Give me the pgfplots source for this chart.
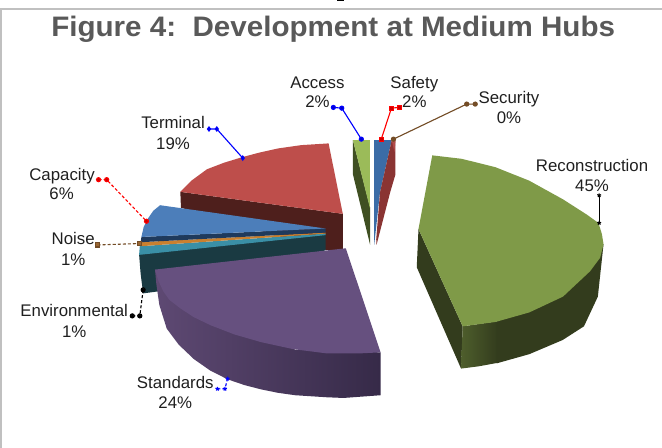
\documentclass[border=0pt]{standalone}
\usepackage{graphicx}
\usepackage{fontspec}
\setmainfont{Liberation Sans}
\usepackage{pgfplots}
\pgfplotsset{compat=1.18}

\definecolor{framegray}{HTML}{C0C0C0}
\definecolor{titlegray}{HTML}{595959}
\definecolor{labelink}{HTML}{1F1F1F}
\definecolor{leader}{HTML}{3A3A3A}
\definecolor{olive}{HTML}{7F9A48}
\definecolor{olivedark}{HTML}{333C1D}
\definecolor{olivemid}{HTML}{4E5E2C}
\definecolor{termred}{HTML}{BE4E4B}
\definecolor{termdark}{HTML}{4E1F1C}
\definecolor{capblue}{HTML}{4C7EBA}
\definecolor{capdark}{HTML}{1F3A5C}
\definecolor{noiseorange}{HTML}{C9802F}
\definecolor{envteal}{HTML}{3A8FA6}
\definecolor{envdark}{HTML}{1A3A42}
\definecolor{stdpurple}{HTML}{66507F}
\definecolor{stdleft}{HTML}{5E4973}
\definecolor{stdright}{HTML}{362A48}
\definecolor{accgreen}{HTML}{9BBB59}
\definecolor{accdark}{HTML}{3F4F22}
\definecolor{safeblue}{HTML}{3B6CA6}
\definecolor{secred}{HTML}{8A3433}
\definecolor{seclight}{HTML}{B04A4A}

\tikzset{lab/.style={anchor=base,text=labelink,font=\fontsize{16.6}{19}\selectfont,inner sep=0pt}}

\begin{document}
\begin{tikzpicture}
\begin{axis}[
    width=662pt, height=442pt, scale only axis,
    xmin=0, xmax=662, ymin=0, ymax=442,
    y dir=reverse, axis lines=none,
  ]
  % frame of the embedded chart
  \addplot[framegray, line width=1.5pt] coordinates {(9.5,442) (9.5,9) (662,9)};
  \addplot[black, line width=1.5pt] coordinates {(341,0) (348,0)};

  % Terminal
  \addplot[draw=none, fill=termdark] coordinates {(186.7,189.3) (187.3,205) (330,246.5) (347,246.5) (347,211)};
  \addplot[draw=none, fill=termred] coordinates {(186.7,189.3) (198,178) (213,167) (230,160.5) (248,155) (265,150.5) (283,146.5) (306,143.2) (333,141.5) (347,211)};

  % Environmental and Noise
  \addplot[draw=none, fill=envdark] coordinates {(146,251) (147.5,270) (150,289.5) (165,287.5) (330,247) (330,231.5)};
  \addplot[draw=none, fill=envteal] coordinates {(146.7,243) (146,251.5) (330,232) (330,230.5)};
  \addplot[draw=none, fill=noiseorange] coordinates {(146.5,239) (146.7,243) (330,230.5) (330,229.5)};

  % Capacity
  \addplot[draw=none, fill=capdark] coordinates {(148.3,233.8) (147.5,239) (330,229.5) (330,225.5)};
  \addplot[draw=none, fill=capblue] coordinates {(166.7,202.5) (160,208) (154.5,216) (150.5,224) (148.3,233.8) (330,225.5)};

  % Standards
  \addplot[draw=none, left color=stdleft, right color=stdright] coordinates {(161.7,266) (163,280) (166,301) (173.3,324.3) (185,340) (200,354.3) (216,365.5) (233.3,374.3) (250,380) (266.7,384.3) (283,387.6) (300,390) (331,392) (347.7,392.7) (384.3,390) (384.3,347.7) (300,345)};
  \addplot[draw=none, fill=stdpurple] coordinates {(161.7,266) (350,245) (384.3,347.7) (364,348.7) (331,348.7) (298,344.5) (266.7,337.7) (240,330) (216.7,321) (200,313) (186.7,304.3) (176,296) (170,287.7) (165,277)};

  % Reconstruction
  \addplot[draw=none, fill=olivedark] coordinates {(421.7,226) (420,263.7) (463.7,363.7) (465.3,322)};
  \addplot[draw=none, left color=olivemid, right color=olivedark] coordinates {(465.3,322) (463.7,363.7) (481,361.5) (500,358) (500,317)};
  \addplot[draw=none, fill=olivedark] coordinates {(499,315) (499,358.5) (531,349.5) (564,335.5) (585,322) (598.7,292.7) (604.3,241)};
  \addplot[draw=none, fill=olive] coordinates {(435.3,153.3) (464.3,156.7) (497.7,165) (531,178.3) (564.3,196.7) (587.7,211.7) (599.3,220) (602.7,231) (604.3,241) (601,254.3) (591,267.7) (564.3,292.7) (531,308.3) (497.7,317.7) (465.3,322) (421.7,226)};

  % Access
  \addplot[draw=none, fill=accdark] coordinates {(357,138.3) (357,172) (374,241.7) (374,205)};
  \addplot[draw=none, fill=accgreen] coordinates {(357,138.3) (373.7,138.3) (373.7,205)};

  % Safety and Security
  \addplot[draw=none, fill=safeblue] coordinates {(378,138.3) (395.3,138.3) (383.7,190) (378,241.7)};
  \addplot[draw=none, fill=secred] coordinates {(395.3,138.3) (399,138.3) (399,172) (393.7,190) (380.3,241.7) (380,236) (383.7,190)};
  \addplot[draw=none, fill=seclight] coordinates {(395.3,138.3) (399,138.3) (398,150)};

  % leader lines
  \pgfplotsset{every axis plot/.append style={leader, line width=1.1pt}}
  \addplot coordinates {(337.7,106) (346,106.7) (365.3,137.3)};
  \addplot coordinates {(402.7,106) (395,106.7) (385,137.3)};
  \addplot coordinates {(477.7,102.7) (469.3,102.7) (397,137.3)};
  \addplot coordinates {(600,192.7) (600,220)};
  \addplot coordinates {(215,127.3) (222.7,127.3) (248.3,156)};
  \addplot coordinates {(106,177.3) (114,177.3) (153.3,218.3)};
  \addplot coordinates {(105,241.7) (146.7,240.3)};
  \addplot coordinates {(139.3,311.7) (146.7,311.7) (150,286)};
  \addplot coordinates {(223.3,383.7) (230.7,383.7) (233.3,373.7)};

  % title and labels
  \node[anchor=base,text=titlegray,inner sep=0pt] at (axis cs:337.5,36)
    {\scalebox{1.05}[1]{\fontsize{27.8}{30}\selectfont\bfseries Figure 4:\ \ Development at Medium Hubs}};
  \node[lab] at (axis cs:322,87) {Access};
  \node[lab] at (axis cs:322,106) {2\%};
  \node[lab] at (axis cs:417.6,87) {Safety};
  \node[lab] at (axis cs:417.6,106) {2\%};
  \node[lab] at (axis cs:511,102) {Security};
  \node[lab] at (axis cs:511,122) {0\%};
  \node[lab] at (axis cs:593,169.3) {Reconstruction};
  \node[lab] at (axis cs:593,189.3) {45\%};
  \node[lab] at (axis cs:179.5,127) {Terminal};
  \node[lab] at (axis cs:179.5,148) {19\%};
  \node[lab] at (axis cs:70,178) {Capacity};
  \node[lab] at (axis cs:69.5,197) {6\%};
  \node[lab] at (axis cs:81,241.7) {Noise};
  \node[lab] at (axis cs:81,261.7) {1\%};
  \node[lab] at (axis cs:82,312.7) {Environmental};
  \node[lab] at (axis cs:82,332.7) {1\%};
  \node[lab] at (axis cs:181.7,383.7) {Standards};
  \node[lab] at (axis cs:181.7,403.3) {24\%};
\end{axis}
\end{tikzpicture}
\end{document}
